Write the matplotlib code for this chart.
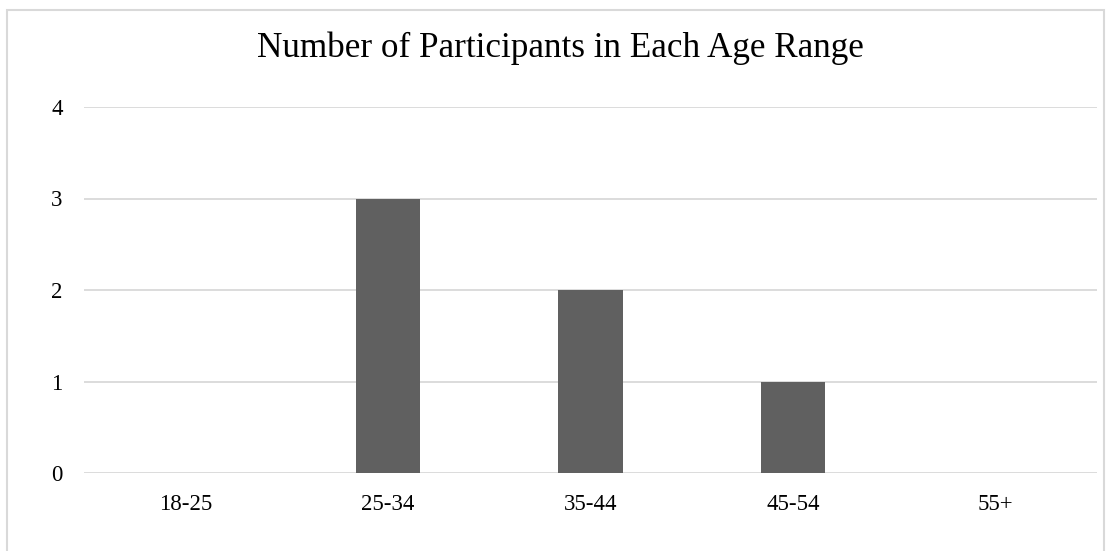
import matplotlib.pyplot as plt
from matplotlib.patches import Rectangle

age_ranges = ["18-25", "25-34", "35-44", "45-54", "55+"]
participants = [0, 3, 2, 1, 0]
y_ticks = [0, 1, 2, 3, 4]

W, H = 1111, 551
plt.rcParams["font.family"] = ["Liberation Serif", "DejaVu Serif"]

fig = plt.figure(figsize=(W / 100, H / 100), dpi=100)
fig.add_artist(Rectangle((7 / W, -0.01), (1104 - 7) / W, 1.01 - 10 / H,
                         transform=fig.transFigure, fill=False,
                         edgecolor="#d9d9d9", linewidth=1.5))

ax = fig.add_axes([84 / W, 1 - 473 / H, (1097 - 84) / W, (473 - 107) / H])
x = range(len(age_ranges))
ax.bar(x, participants, width=0.316, color="#606060", zorder=3)
ax.set_xlim(-0.5, len(age_ranges) - 0.5)
ax.set_ylim(0, 4)
ax.set_yticks(y_ticks)
ax.set_xticks(list(x), age_ranges)
ax.grid(axis="y", color="#d9d9d9", linewidth=1.3, zorder=0)
ax.set_axisbelow(True)
for s in ax.spines.values():
    s.set_visible(False)
ax.tick_params(length=0, labelsize=16.5, colors="black")
ax.tick_params(axis="y", pad=19.5)
ax.tick_params(axis="x", pad=15)
for lbl in ax.get_yticklabels():
    lbl.set_horizontalalignment("center")

fig.text(560 / W, 1 - 48 / H, "Number of Participants in Each Age Range",
         ha="center", va="center", fontsize=25.3)

fig.savefig("out.png", dpi=100)
